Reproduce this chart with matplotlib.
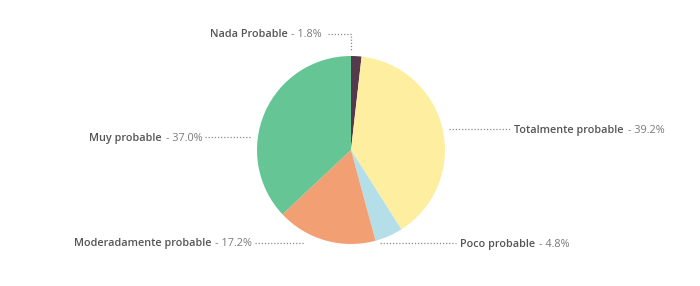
import matplotlib.pyplot as plt

plt.rcParams['font.family'] = ['Open Sans', 'DejaVu Sans']

labels = ['Nada Probable', 'Totalmente probable', 'Poco probable',
          'Moderadamente probable', 'Muy probable']
values = [1.8, 39.2, 4.8, 17.2, 37.0]
colors = ['#553a4c', '#fdeea0', '#b4dfe8', '#f2a073', '#66c595']

H = 286
cx, cy, r = 351, 150, 94

# label layout in pixels: (text x, text baseline y, side, leader line points)
layout = {
    'Nada Probable': (322, 37, 'left', [(328, 34), (351, 34), (351, 50)]),
    'Totalmente probable': (514, 133, 'right', [(449, 129), (511, 129)]),
    'Poco probable': (460, 247, 'right', [(380, 243), (456, 243)]),
    'Moderadamente probable': (252, 246, 'left', [(255, 243), (305, 243)]),
    'Muy probable': (202, 141, 'left', [(205, 137), (250, 137)]),
}

fig = plt.figure(figsize=(7, 2.86), dpi=100)
ax = fig.add_axes([0, 0, 1, 1])

ax.pie(values, colors=colors, startangle=90, counterclock=False,
       center=(cx, H - cy), radius=r, wedgeprops=dict(linewidth=0))
ax.set_xlim(0, 700)
ax.set_ylim(0, H)
ax.set_aspect('auto')
ax.axis('off')

fs = 7.8
renderer = fig.canvas.get_renderer()
for name, val in zip(labels, values):
    tx, ty, side, pts = layout[name]
    xs = [p[0] for p in pts]
    ys = [H - p[1] for p in pts]
    ax.plot(xs, ys, color='#888888', lw=0.9, ls=(0, (1, 1.5)))
    pct = f'- {val:.1f}%'
    if side == 'right':
        t1 = ax.text(tx, H - ty, name, ha='left', va='baseline', fontsize=fs,
                     color='#555555', fontweight='semibold')
        bb = t1.get_window_extent(renderer)
        ax.text(bb.x1 + 4, H - ty, pct, ha='left', va='baseline', fontsize=fs,
                color='#7a7a7a')
    else:
        t2 = ax.text(tx, H - ty, pct, ha='right', va='baseline', fontsize=fs,
                     color='#7a7a7a')
        bb = t2.get_window_extent(renderer)
        ax.text(bb.x0 - 4, H - ty, name, ha='right', va='baseline', fontsize=fs,
                color='#555555', fontweight='semibold')

fig.savefig('out.png', dpi=100, facecolor='white')
